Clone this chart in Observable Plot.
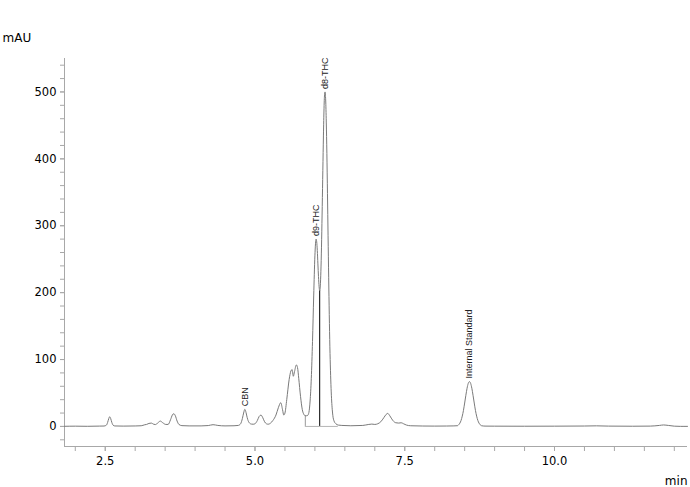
<!DOCTYPE html>
<html><head><meta charset="utf-8">
<script src="https://cdn.jsdelivr.net/npm/d3@7"></script>
<script src="https://cdn.jsdelivr.net/npm/@observablehq/plot@0.6"></script>
<style>body{margin:0;background:#fff}svg{display:block}</style>
</head><body><div id="chart"></div>
<script>
// Chromatogram trace (retention time in min, absorbance in mAU)
const time = [1.82,2.00,2.20,2.40,2.48,2.52,2.54,2.56,2.575,2.59,2.61,2.63,2.66,2.80,3.00,3.10,3.16,3.19,3.23,3.27,3.31,3.34,3.38,3.42,3.46,3.51,3.55,3.59,3.62,3.645,3.67,3.70,3.73,3.78,3.90,4.10,4.22,4.30,4.38,4.50,4.65,4.72,4.76,4.79,4.81,4.83,4.85,4.87,4.90,4.94,4.97,5.00,5.04,5.07,5.10,5.13,5.16,5.19,5.22,5.26,5.30,5.35,5.39,5.43,5.46,5.48,5.50,5.53,5.57,5.60,5.62,5.64,5.66,5.69,5.71,5.73,5.76,5.79,5.81,5.84,5.86,5.88,5.90,5.92,5.94,5.96,5.98,6.00,6.01,6.02,6.03,6.04,6.05,6.06,6.07,6.08,6.09,6.10,6.11,6.12,6.13,6.14,6.15,6.16,6.17,6.18,6.19,6.20,6.21,6.22,6.23,6.24,6.25,6.26,6.27,6.28,6.29,6.30,6.32,6.35,6.39,6.45,6.60,6.80,6.90,6.95,7.00,7.05,7.10,7.15,7.19,7.215,7.25,7.30,7.35,7.40,7.44,7.48,7.53,7.60,7.80,8.00,8.20,8.32,8.38,8.40,8.42,8.44,8.46,8.48,8.50,8.52,8.54,8.56,8.58,8.60,8.62,8.64,8.66,8.68,8.70,8.72,8.74,8.76,8.78,8.84,9.00,9.50,10.00,10.50,10.70,10.90,11.30,11.60,11.75,11.82,11.90,12.00,12.10,12.22];
const mAU  = [0.2,0.4,0.2,0.5,0.6,2,6,12,14.5,12,6,2,0.7,0.5,0.7,1,2.5,3,4.5,5,3.2,2.8,5.5,8,5.5,3,3,10,17,19,16,8,3,1.2,0.8,0.8,1.3,2.6,1.5,0.8,1,1.5,4,12,20,25.5,21,13,6,3.5,3.3,4,9,15,17,13,7,4,3.3,5,9,17,28,35.5,25,17,20,40,70,83,85,75,82,92,88,72,45,25,19,16,16,16.5,21,38,72,127,195,255,273,280,276,263,243,224,209,203,210,232,268,316,369,422,467,494,500,488,455,408,348,285,223,167,119,84,57,38,25,16,8,4,2,1.5,1,1.5,3,3.5,3,4,7,13,18,19.5,16,9,5.5,5,5.5,4,2,1,0.6,0.5,0.6,0.8,1.1,2.5,4.9,9,15.4,24,35,46.5,57,64.4,67,64.4,57,46.5,35,24,15.4,9,4.9,2.5,1.1,0.5,0.4,0.3,0.4,0.6,0.9,0.5,0.3,0.5,1.5,2.2,1.5,0.4,0.1,0.1];

// Peak annotations
const peakNames = ["CBN", "d9-THC", "d8-THC", "Internal Standard"];
const peakTimes = [4.83, 6.02, 6.17, 8.58];
const peakHeights = [25.5, 280, 500, 67];

// Integration marks (drop lines and baseline)
const dropTimes = [6.08];
const dropTops = [203];
const baseStart = [5.84];
const baseEnd = [6.39];
const baseDropTop = [16];

// Axes
const xDomain = [1.82, 12.22];
const yDomain = [-30, 550];
const xMinorTicks = d3.range(2, 12.01, 0.5);
const xLabelTicks = [2.5, 5.0, 7.5, 10.0];
const yMinorTicks = d3.range(-20, 541, 20);
const yLabelTicks = [0, 100, 200, 300, 400, 500];

const trace = time.map((t, i) => ({t, v: mAU[i]}));
const peaks = peakNames.map((name, i) => ({name, t: peakTimes[i], v: peakHeights[i]}));
const drops = dropTimes.map((t, i) => ({t, v: dropTops[i]}));
const bases = baseStart.map((s, i) => ({s, e: baseEnd[i], top: baseDropTop[i]}));

const axisColor = "#a8a8a8";

const chart = Plot.plot({
  width: 690, height: 487,
  marginLeft: 64, marginRight: 3, marginTop: 58, marginBottom: 41,
  style: {fontFamily: "'DejaVu Sans', Verdana, sans-serif", fontSize: "11.5px", color: "#000", background: "#fff"},
  x: {domain: xDomain},
  y: {domain: yDomain},
  marks: [
    Plot.ruleX([xDomain[0]], {stroke: axisColor}),
    Plot.ruleY([yDomain[0]], {stroke: axisColor}),
    Plot.axisX({ticks: xMinorTicks, tickSize: 5, tickFormat: () => "", stroke: axisColor, label: null}),
    Plot.axisX({ticks: xLabelTicks, tickSize: 5, tickPadding: 5, tickFormat: d3.format(".1f"), stroke: axisColor, fill: "#000", label: null}),
    Plot.axisY({ticks: yMinorTicks, tickSize: 4, tickFormat: () => "", stroke: axisColor, label: null}),
    Plot.axisY({ticks: yLabelTicks, tickSize: 4, tickPadding: 4, tickFormat: d => String(d), stroke: axisColor, fill: "#000", label: null}),
    Plot.ruleY(bases, {x1: "s", x2: "e", y: () => 0, stroke: "#b5b5b5"}),
    Plot.ruleX(bases, {x: "s", y1: () => 0, y2: "top", stroke: "#999"}),
    Plot.ruleX(drops, {x: "t", y1: () => 0, y2: "v", stroke: "#000"}),
    Plot.line(trace, {x: "t", y: "v", stroke: "#7a7a7a", strokeWidth: 1, curve: "monotone-x"}),
    Plot.text(peaks, {x: "t", y: "v", text: "name", rotate: -90, textAnchor: "start", lineAnchor: "middle", dy: -3, fontSize: 9, fontFamily: "'Liberation Sans', Arial, sans-serif", fill: "#222"}),
    Plot.text(["mAU"], {frameAnchor: "top-left", text: d => d, textAnchor: "start", lineAnchor: "bottom", dx: -62, dy: -17, fontSize: 12}),
    Plot.text(["min"], {frameAnchor: "bottom-right", text: d => d, textAnchor: "end", lineAnchor: "bottom", dx: 0, dy: 38, fontSize: 12})
  ]
});
document.getElementById("chart").append(chart);
</script>
</body></html>
